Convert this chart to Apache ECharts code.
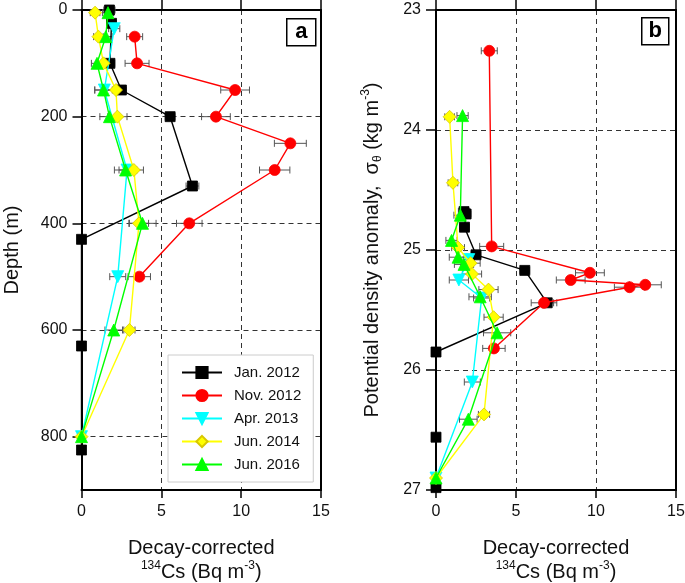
<!DOCTYPE html>
<html>
<head>
<meta charset="utf-8">
<script src="https://cdn.jsdelivr.net/npm/echarts@6/dist/echarts.min.js"></script>
<style>html,body{margin:0;padding:0;background:#fff}#c{width:685px;height:583px}</style>
</head>
<body>
<div id="c"></div>
<script>
// ---- data ----
const seriesNames = ['Jan. 2012', 'Nov. 2012', 'Apr. 2013', 'Jun. 2014', 'Jun. 2016'];

const depthJan = [0, 25, 100, 150, 200, 330, 430, 630, 825];
const sigmaJan = [24.68, 24.70, 24.81, 25.04, 25.17, 25.44, 25.85, 26.56, 26.98];
const csJan    = [1.75, 1.88, 1.78, 2.5, 5.55, 6.95, 0, 0, 0];
const errJan   = [0.35, 0.3, 0.3, 0.3, 0.3, 0.4, 0, 0, 0];

const depthNov = [50, 100, 150, 200, 250, 300, 400, 500];
const sigmaNov = [23.34, 24.97, 25.19, 25.25, 25.29, 25.31, 25.44, 25.82];
const csNov    = [3.33, 3.48, 9.62, 8.42, 13.08, 12.1, 6.75, 3.62];
const errNov   = [0.5, 0.75, 0.9, 0.9, 1.0, 0.95, 0.8, 0.7];

const depthApr = [35, 150, 300, 500, 800];
const sigmaApr = [25.08, 25.25, 25.40, 26.10, 26.90];
const csApr    = [2.05, 1.43, 2.85, 2.27, 0];
const errApr   = [0.35, 0.6, 0.5, 0.5, 0];

const depthJun14 = [5, 50, 100, 150, 200, 300, 400, 600, 800];
const sigmaJun14 = [23.89, 24.44, 24.98, 25.11, 25.20, 25.33, 25.56, 26.37, 26.90];
const csJun14    = [0.85, 1.06, 1.38, 2.16, 2.25, 3.28, 3.6, 3.0, 0];
const errJun14   = [0.3, 0.3, 0.4, 0.6, 0.6, 0.6, 0.6, 0.35, 0];

const depthJun16 = [5, 50, 100, 150, 200, 300, 400, 600, 800];
const sigmaJun16 = [23.88, 24.71, 24.92, 25.06, 25.12, 25.39, 25.69, 26.41, 26.90];
const csJun16    = [1.66, 1.52, 0.97, 1.38, 1.75, 2.76, 3.82, 2.02, 0];
const errJun16   = [0.35, 0.4, 0.35, 0.55, 0.6, 0.7, 0.85, 0.55, 0];

const xTicks = [0, 5, 10, 15];
const depthTicks = [0, 200, 400, 600, 800];
const sigmaTicks = [23, 24, 25, 26, 27];

// ---- styles ----
const FONT = 'Liberation Sans, Arial, sans-serif';
const styles = [
  {color: '#000000', symbol: 'rect', size: 10, rotate: 0, border: '#000000'},
  {color: '#ff0000', symbol: 'circle', size: 11, rotate: 0, border: '#ff0000'},
  {color: '#00ffff', symbol: 'triangle', size: 12, rotate: 180, border: '#00ffff'},
  {color: '#ffff00', symbol: 'diamond', size: 13, rotate: 0, border: '#d8c800'},
  {color: '#00ff00', symbol: 'triangle', size: 12, rotate: 0, border: '#00ff00'}
];
const sets = [
  [depthJan, sigmaJan, csJan, errJan],
  [depthNov, sigmaNov, csNov, errNov],
  [depthApr, sigmaApr, csApr, errApr],
  [depthJun14, sigmaJun14, csJun14, errJun14],
  [depthJun16, sigmaJun16, csJun16, errJun16]
];

function errSeries(ax, ys, cs, es) {
  return {
    type: 'custom', xAxisIndex: ax, yAxisIndex: ax, silent: true, z: 1,
    data: cs.map((c, i) => [c, ys[i], es[i]]),
    renderItem: function (params, api) {
      const c = api.value(0), y = api.value(1), e = api.value(2);
      if (!e) return null;
      const p1 = api.coord([c - e, y]), p2 = api.coord([c + e, y]);
      const h = 3.5, st = {stroke: '#555', lineWidth: 1};
      return {type: 'group', children: [
        {type: 'line', shape: {x1: p1[0], y1: p1[1], x2: p2[0], y2: p2[1]}, style: st},
        {type: 'line', shape: {x1: p1[0], y1: p1[1] - h, x2: p1[0], y2: p1[1] + h}, style: st},
        {type: 'line', shape: {x1: p2[0], y1: p2[1] - h, x2: p2[0], y2: p2[1] + h}, style: st}
      ]};
    }
  };
}
function lineSeries(ax, k, ys, cs) {
  const s = styles[k];
  return {
    type: 'line', name: seriesNames[k], xAxisIndex: ax, yAxisIndex: ax, z: 3 + k,
    data: cs.map((c, i) => [c, ys[i]]),
    symbol: s.symbol, symbolSize: s.size, symbolRotate: s.rotate,
    lineStyle: {color: s.color, width: 1.4},
    itemStyle: {color: s.color, borderColor: s.border, borderWidth: 0.8, opacity: 1},
    showAllSymbol: true, clip: false
  };
}
const series = [];
sets.forEach((d) => { series.push(errSeries(0, d[0], d[2], d[3])); series.push(errSeries(2, d[1], d[2], d[3])); });
sets.forEach((d, k) => { series.push(lineSeries(0, k, d[0], d[2])); series.push(lineSeries(2, k, d[1], d[2])); });

const axLine = {show: true, onZero: false, lineStyle: {color: '#000', width: 2}};
const split = {show: true, lineStyle: {color: '#333', width: 1, type: [5, 4]}};
const lbl = {fontSize: 16, color: '#111', fontFamily: FONT};
const nameStyle = {
  fontSize: 20, color: '#111', fontFamily: FONT, lineHeight: 24, align: 'center',
  rich: {
    sup: {fontSize: 12, color: '#111', fontFamily: FONT, verticalAlign: 'top', lineHeight: 14},
    sub: {fontSize: 12, color: '#111', fontFamily: FONT, verticalAlign: 'bottom', lineHeight: 14}
  }
};
const xName = 'Decay-corrected\n{sup|134}Cs (Bq m{sup|-3})';

function bottomX(g) {
  return {gridIndex: g, type: 'value', min: 0, max: 15, interval: 5, position: 'bottom',
    axisLine: axLine, axisTick: {show: true, inside: false, length: 8, lineStyle: {color: '#000', width: 1.5}},
    axisLabel: Object.assign({margin: 14}, lbl), splitLine: split,
    name: xName, nameLocation: 'middle', nameGap: 46, nameTextStyle: nameStyle};
}
function topX(g) {
  return {gridIndex: g, type: 'value', min: 0, max: 15, interval: 5, position: 'top',
    axisLine: axLine, axisTick: {show: true, inside: false, length: 10, lineStyle: {color: '#000', width: 1.5}},
    axisLabel: {show: false}, splitLine: {show: false}};
}
const option = {
  animation: false,
  backgroundColor: '#fff',
  textStyle: {fontFamily: FONT},
  grid: [
    {left: 81.5, top: 10, width: 239.5, height: 480, containLabel: false, outerBoundsMode: 'none'},
    {left: 436, top: 10, width: 240, height: 480, containLabel: false, outerBoundsMode: 'none'}
  ],
  xAxis: [bottomX(0), topX(0), bottomX(1), topX(1)],
  yAxis: [
    {gridIndex: 0, type: 'value', min: 0, max: 900, interval: 200, inverse: true, position: 'left',
      axisLine: axLine,
      axisTick: {show: true, inside: false, length: 9, customValues: depthTicks, lineStyle: {color: '#000', width: 1.5}},
      axisLabel: Object.assign({margin: 14, customValues: depthTicks}, lbl), splitLine: split,
      name: 'Depth (m)', nameLocation: 'middle', nameGap: 57, nameTextStyle: nameStyle},
    {gridIndex: 0, type: 'value', min: 0, max: 900, inverse: true, position: 'right',
      axisLine: axLine, axisTick: {show: false}, axisLabel: {show: false}, splitLine: {show: false}},
    {gridIndex: 1, type: 'value', min: 23, max: 27, interval: 1, inverse: true, position: 'left',
      axisLine: axLine,
      axisTick: {show: true, inside: false, length: 10, lineStyle: {color: '#000', width: 1.5}},
      axisLabel: Object.assign({margin: 15, formatter: v => sigmaTicks.includes(v) ? String(v) : ''}, lbl), splitLine: split,
      name: 'Potential density anomaly,  σ{sub|θ} (kg m{sup|-3})', nameLocation: 'middle', nameGap: 52, nameTextStyle: nameStyle},
    {gridIndex: 1, type: 'value', min: 23, max: 27, inverse: true, position: 'right',
      axisLine: axLine, axisTick: {show: false}, axisLabel: {show: false}, splitLine: {show: false}}
  ],
  legend: {
    data: seriesNames, orient: 'vertical', left: 168, top: 355,
    padding: [10, 12, 10, 13], itemGap: 8, itemWidth: 40, itemHeight: 14,
    borderColor: '#cccccc', borderWidth: 1, backgroundColor: '#fff',
    textStyle: {fontSize: 15, color: '#111', fontFamily: FONT, padding: [0, 0, 0, 7]},
    selectedMode: false
  },
  graphic: [
    {type: 'group', left: 286, top: 18, children: [
      {type: 'rect', shape: {x: 0, y: 0, width: 29, height: 27}, style: {fill: '#fff', stroke: '#000', lineWidth: 1.5}},
      {type: 'text', x: 14.5, y: 13.5, style: {text: 'a', font: 'bold 22px ' + FONT, fill: '#000', textAlign: 'center', textVerticalAlign: 'middle'}}
    ]},
    {type: 'group', left: 641, top: 17, children: [
      {type: 'rect', shape: {x: 0, y: 0, width: 27, height: 27}, style: {fill: '#fff', stroke: '#000', lineWidth: 1.5}},
      {type: 'text', x: 13.5, y: 13.5, style: {text: 'b', font: 'bold 22px ' + FONT, fill: '#000', textAlign: 'center', textVerticalAlign: 'middle'}}
    ]}
  ],
  series: series
};
const chart = echarts.init(document.getElementById('c'), null, {renderer: 'canvas'});
chart.setOption(option);
</script>
</body>
</html>
